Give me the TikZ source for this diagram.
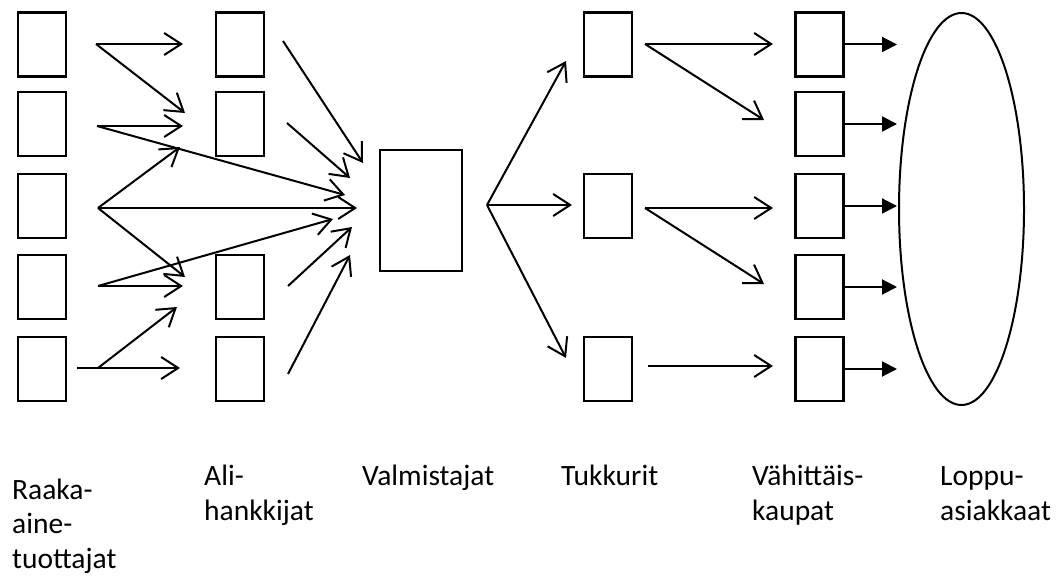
\documentclass[tikz,border=0pt]{standalone}
\usepackage{fontspec}
\setmainfont{Carlito}
\usetikzlibrary{arrows.meta,shapes.geometric,calc}

\tikzset{
  firm/.style={draw, rectangle, line width=2.4pt, minimum width=48pt, minimum height=64pt, inner sep=0pt},
  flow/.style={line width=2pt, -{Straight Barb[length=17pt,width=22pt]}},
  sale/.style={line width=2pt, -{Triangle[length=15pt,width=15pt]}},
  lbl/.style={anchor=base west, align=left, inner sep=0pt, font=\fontsize{29.5}{34.5}\selectfont},
}

\begin{document}
\begin{tikzpicture}[x=1pt,y=-1pt]
\useasboundingbox (0,0) rectangle (1059,575);

\foreach \i/\y in {1/44.5,2/124,3/206,4/287,5/369}{
  \node[firm] (r\i) at (42,\y) {};
  \node[firm] (k\i) at (819.5,\y) {};
}
\foreach \i/\y in {1/44.5,2/124,4/287,5/369}
  \node[firm] (a\i) at (240,\y) {};
\foreach \i/\y in {1/44.5,3/206,5/369}
  \node[firm] (t\i) at (608,\y) {};
\node[firm, minimum width=82pt, minimum height=121pt] (v) at (421,210.5) {};
\node[draw, ellipse, line width=2pt, inner sep=0pt, minimum width=125pt, minimum height=392pt] (e) at (961.5,209) {};

\foreach \n/\p in {r1o/{96,44}, r2o/{97,126}, r3o/{98,208}, r4o/{98,286}, r5o/{98,368}, r5s/{77,368},
                   a1o/{283,41}, a2o/{287,123}, a4o/{288,286}, a5o/{288,374},
                   vo/{487,205}, t1o/{645,44}, t3o/{645,208}, t5o/{648,366}, ex/{897,0}}
  \coordinate (\n) at (\p);
\foreach \n/\p in {a1i/{183,44}, a2i1/{185,113}, a2i2/{183,126}, a2i3/{180,147},
                   a4i1/{185,277}, a4i2/{183,286}, a4i3/{177,307}, a5i/{180,368},
                   v1/{363,163}, v2/{350,178}, v3/{345,195}, v4/{357,208}, v5/{333,219}, v6/{352,227}, v7/{350,255},
                   t1i/{566,61}, t3i/{572,205}, t5i/{566,358},
                   k1i/{773,44}, k2i/{764,120}, k3i/{773,208}, k4i/{764,284}, k5i/{773,366}}
  \coordinate (\n) at (\p);

\foreach \s/\t in {r1o/a1i, r1o/a2i1, r2o/a2i2, r2o/v3, r3o/a2i3, r3o/v4, r3o/a4i1,
                   r4o/a4i2, r4o/v5, r5s/a5i, r5o/a4i3,
                   a1o/v1, a2o/v2, a4o/v6, a5o/v7,
                   vo/t1i, vo/t3i, vo/t5i,
                   t1o/k1i, t1o/k2i, t3o/k3i, t3o/k4i, t5o/k5i}
  \draw[flow] (\s) -- (\t);
\foreach \i in {1,...,5}
  \draw[sale] (k\i.east) -- (k\i.east -| ex);

\node[lbl] (raaka) at (12,568) {Raaka-\\aine-\\tuottajat};
\node[lbl] (ali) at (204,520) {Ali-\\hankkijat};
\node[lbl] (valm) at (362,485) {Valmistajat};
\node[lbl] (tukku) at (561,485) {Tukkurit};
\node[lbl] (vahi) at (752,520) {Vähittäis-\\kaupat};
\node[lbl] (loppu) at (940,520) {Loppu-\\asiakkaat};
\end{tikzpicture}
\end{document}
